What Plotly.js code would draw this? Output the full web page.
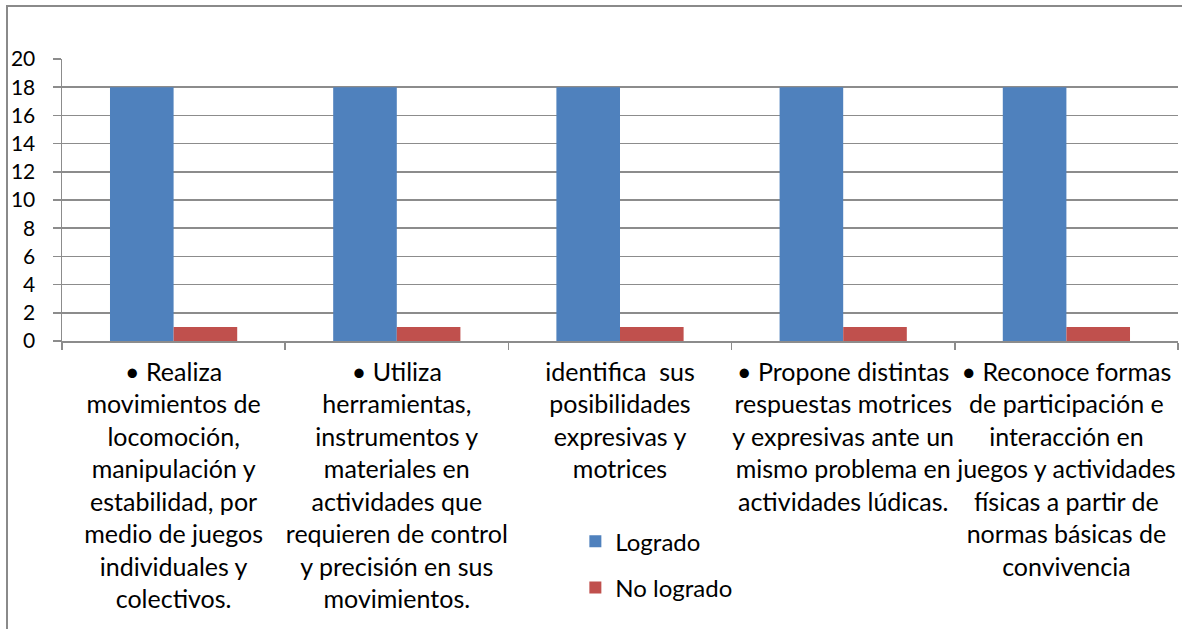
<!DOCTYPE html>
<html>
<head>
<meta charset="utf-8">
<script src="https://cdn.plot.ly/plotly-3.0.1.min.js"></script>
<style>
html,body{margin:0;padding:0;background:#fff;}
#chart{width:1182px;height:629px;position:absolute;left:0;top:0;}
#frame{position:absolute;left:6px;top:5px;width:1200px;height:700px;border:2px solid #8a8a8a;box-sizing:border-box;pointer-events:none;}
</style>
</head>
<body>
<div id="chart"></div>
<div id="frame"></div>
<script>
const categories = [
  "• Realiza<br>movimientos de<br>locomoción,<br>manipulación y<br>estabilidad, por<br>medio de juegos<br>individuales y<br>colectivos.",
  "• Utiliza<br>herramientas,<br>instrumentos y<br>materiales en<br>actividades que<br>requieren de control<br>y precisión en sus<br>movimientos.",
  "identifica  sus<br>posibilidades<br>expresivas y<br>motrices",
  "• Propone distintas<br>respuestas motrices<br>y expresivas ante un<br>mismo problema en<br>actividades lúdicas.",
  "• Reconoce formas<br>de participación e<br>interacción en<br>juegos y actividades<br>físicas a partir de<br>normas básicas de<br>convivencia"
];
const logrado = [18, 18, 18, 18, 18];
const noLogrado = [1, 1, 1, 1, 1];
const seriesNames = ["Logrado", "No logrado"];
const yTicks = [0, 2, 4, 6, 8, 10, 12, 14, 16, 18, 20];

const font = "Lato, 'Open Sans', sans-serif";
const gray = "#8c8c8c";

const data = [
  {type: "bar", x: categories, y: logrado, name: seriesNames[0], legendgroup: "a",
   marker: {color: "#4F81BD"}},
  {type: "bar", x: categories, y: noLogrado, name: seriesNames[1], legendgroup: "b",
   marker: {color: "#C0504D"}}
];

const layout = {
  width: 1182, height: 629,
  margin: {l: 62, r: 4, t: 59, b: 288},
  paper_bgcolor: "#fff", plot_bgcolor: "#fff",
  font: {family: font, size: 24, color: "#000"},
  barmode: "group",
  bargap: 0.43, bargroupgap: 0,
  showlegend: true,
  legend: {
    x: 0.46, xanchor: "left", y: -0.632, yanchor: "top",
    traceorder: "grouped", tracegroupgap: 12,
    font: {family: font, size: 24, color: "#000"},
    bgcolor: "rgba(0,0,0,0)"
  },
  xaxis: {
    type: "category",
    showline: true, linecolor: gray, linewidth: 1.5,
    ticks: "outside", tickson: "boundaries", ticklen: 7, tickcolor: gray, tickwidth: 1.5,
    showgrid: false, tickangle: 0,
    tickfont: {family: font, size: 25, color: "#000"},
    ticklabelstandoff: 8,
    automargin: false
  },
  yaxis: {
    range: [0, 20], tickvals: yTicks, ticktext: yTicks.map(String),
    showline: true, linecolor: gray, linewidth: 1.5,
    ticks: "outside", ticklen: 8, tickcolor: gray, tickwidth: 1.5,
    showgrid: true, gridcolor: gray, gridwidth: 1.5,
    zeroline: false,
    tickfont: {family: font, size: 21, color: "#000"},
    ticklabelstandoff: 13,
    automargin: false
  }
};

Plotly.newPlot("chart", data, layout, {displayModeBar: false, staticPlot: true});
</script>
</body>
</html>
